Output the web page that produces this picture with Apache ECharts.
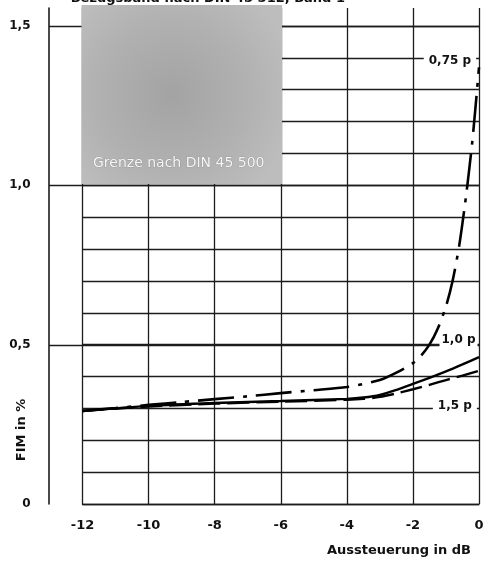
<!DOCTYPE html>
<html>
<head>
<meta charset="utf-8">
<script src="https://cdn.jsdelivr.net/npm/echarts@6/dist/echarts.min.js"></script>
<style>
html,body{margin:0;padding:0;background:#fff;}
#c{width:488px;height:561px;}
</style>
</head>
<body>
<div id="c"></div>
<script>
// ---- data ----
const dB075 = [-12, -11, -10, -9, -8, -7, -6, -5, -4, -3, -2.5, -2, -1.75, -1.5, -1.25, -1, -0.8, -0.6, -0.4, -0.2, 0];
const fim075 = [0.292, 0.301, 0.311, 0.320, 0.329, 0.338, 0.348, 0.357, 0.367, 0.389, 0.412, 0.442, 0.466, 0.50, 0.55, 0.62, 0.70, 0.81, 0.96, 1.14, 1.37];
const dB10 = [-12, -10, -8, -6, -4, -3.5, -3, -2.5, -2, -1.5, -1, -0.5, 0];
const fim10 = [0.292, 0.308, 0.317, 0.323, 0.330, 0.334, 0.342, 0.358, 0.377, 0.396, 0.416, 0.438, 0.461];
const dB15 = [-12, -10, -8, -6, -4, -3.5, -3, -2.5, -2, -1.5, -1, -0.5, 0];
const fim15 = [0.292, 0.306, 0.315, 0.321, 0.327, 0.330, 0.336, 0.347, 0.360, 0.374, 0.389, 0.403, 0.418];
const curveLabels = ['0,75 p', '1,0 p', '1,5 p'];
const curveLabelAt = [[-0.88, 1.39], [-0.62, 0.515], [-0.73, 0.3075]];
const yTickLabels = {0: '0', 5: '0,5', 10: '1,0', 15: '1,5'};
const xName = 'Aussteuerung in dB';
const yName = 'FIM in %';
const boxText = 'Grenze nach DIN 45 500';
const topText = 'Bezugsband nach DIN 45 512, Band 1';

const zip = (a, b) => a.map((v, i) => [v, b[i]]);
const FONT = 'DejaVu Sans';
const INK = '#111';
const GRID = '#1c1c1c';

function lbl(i) {
  return {
    coord: curveLabelAt[i],
    symbol: 'rect', symbolSize: 0,
    label: {
      show: true, position: 'inside', formatter: curveLabels[i],
      fontFamily: FONT, fontWeight: 'bold', fontSize: 12, color: INK,
      backgroundColor: '#fff', padding: i === 1 ? [1, 2, 1, 2] : [1, 5, 1, 5]
    }
  };
}
const hiddenX = (g) => ({gridIndex: g, type: 'value', min: 0, max: 1,
  axisLine: {show: false}, axisTick: {show: false}, axisLabel: {show: false}, splitLine: {show: false}});

const chart = echarts.init(document.getElementById('c'), null, {renderer: 'canvas'});
const L = 82.5, R = 9, B = 57;
chart.setOption({
  animation: false,
  backgroundColor: '#fff',
  title: {
    text: topText, right: 138, top: -13,
    textStyle: {fontFamily: FONT, fontWeight: 'bold', fontSize: 13, color: INK}
  },
  grid: [
    {left: L, right: R, top: 26, bottom: B},
    {left: L, right: R, top: 8, bottom: B},
    {left: 49, right: R, top: 26, bottom: 216},
    {left: 49, right: R, top: 8, bottom: B}
  ],
  xAxis: [
    {gridIndex: 0, type: 'value', min: -12, max: 0, interval: 2,
     axisLine: {show: true, onZero: false, lineStyle: {color: GRID, width: 1.4}},
     axisTick: {show: false}, splitLine: {show: false},
     axisLabel: {margin: 15, fontFamily: FONT, fontWeight: 'bold', fontSize: 13, color: INK,
       formatter: v => String(v)}},
    {gridIndex: 1, type: 'value', min: -12, max: 0, interval: 2,
     axisLine: {show: false}, axisTick: {show: false}, axisLabel: {show: false},
     splitLine: {show: true, lineStyle: {color: GRID, width: 1.3}}},
    hiddenX(2),
    hiddenX(3)
  ],
  yAxis: [
    {gridIndex: 0, type: 'value', min: 0, max: 1.5, interval: 0.1,
     axisLine: {show: false, onZero: false}, axisTick: {show: false},
     splitLine: {show: true, lineStyle: {color: GRID, width: 1.3}},
     axisLabel: {margin: 52, fontFamily: FONT, fontWeight: 'bold', fontSize: 12, color: INK,
       formatter: v => { const k = Math.round(v * 10); return yTickLabels[k] !== undefined ? yTickLabels[k] : ''; }}},
    {gridIndex: 1, type: 'value', min: 0, max: 1,
     axisLine: {show: false}, axisTick: {show: false}, axisLabel: {show: false}, splitLine: {show: false}},
    {gridIndex: 2, type: 'value', min: 0.5, max: 1.5, interval: 0.5,
     axisLine: {show: false, onZero: false}, axisTick: {show: false}, axisLabel: {show: false},
     splitLine: {show: true, lineStyle: {color: GRID, width: 1.4}}},
    {gridIndex: 3, type: 'value', min: 0, max: 1, position: 'left',
     axisLine: {show: true, onZero: false, lineStyle: {color: GRID, width: 1.6}},
     axisTick: {show: false}, axisLabel: {show: false}, splitLine: {show: false}}
  ],
  series: [
    {type: 'line', name: curveLabels[1], xAxisIndex: 0, yAxisIndex: 0, data: zip(dB10, fim10),
     showSymbol: false, smooth: 0.25, z: 5,
     lineStyle: {color: '#000', width: 2.4},
     markPoint: {data: [lbl(1)], z: 6}},
    {type: 'line', name: curveLabels[2], xAxisIndex: 0, yAxisIndex: 0, data: zip(dB15, fim15),
     showSymbol: false, smooth: 0.25, z: 5,
     lineStyle: {color: '#000', width: 2.4, type: [22, 7]},
     markPoint: {data: [lbl(2)], z: 6}},
    {type: 'line', name: curveLabels[0], xAxisIndex: 0, yAxisIndex: 0, data: zip(dB075, fim075),
     showSymbol: false, smooth: 0.25, z: 5,
     lineStyle: {color: '#000', width: 2.6, type: [36, 9, 4, 9]},
     markPoint: {data: [lbl(0)], z: 6}}
  ],
  graphic: [
    {type: 'rect', z: 50, shape: {x: 81.5, y: 5, width: 200.5, height: 179},
     style: {fill: new echarts.graphic.RadialGradient(0.45, 0.5, 0.7, [
       {offset: 0, color: '#a3a3a3'}, {offset: 0.6, color: '#b1b1b1'}, {offset: 1, color: '#bdbdbd'}])}},
    {type: 'text', z: 51, x: 93, y: 163,
     style: {text: boxText, fontFamily: FONT, fontSize: 14, fill: '#f6f6f6',
       verticalAlign: 'middle', align: 'left', stroke: '#8a8a8a', lineWidth: 0.6}},
    {type: 'text', z: 51, x: 471, y: 551,
     style: {text: xName, fontFamily: FONT, fontWeight: 'bold', fontSize: 13, fill: INK,
       align: 'right', verticalAlign: 'middle'}},
    {type: 'text', z: 51, x: 22, y: 430, rotation: Math.PI / 2,
     style: {text: yName, fontFamily: FONT, fontWeight: 'bold', fontSize: 13, fill: INK,
       align: 'center', verticalAlign: 'middle'}}
  ]
});
</script>
</body>
</html>
